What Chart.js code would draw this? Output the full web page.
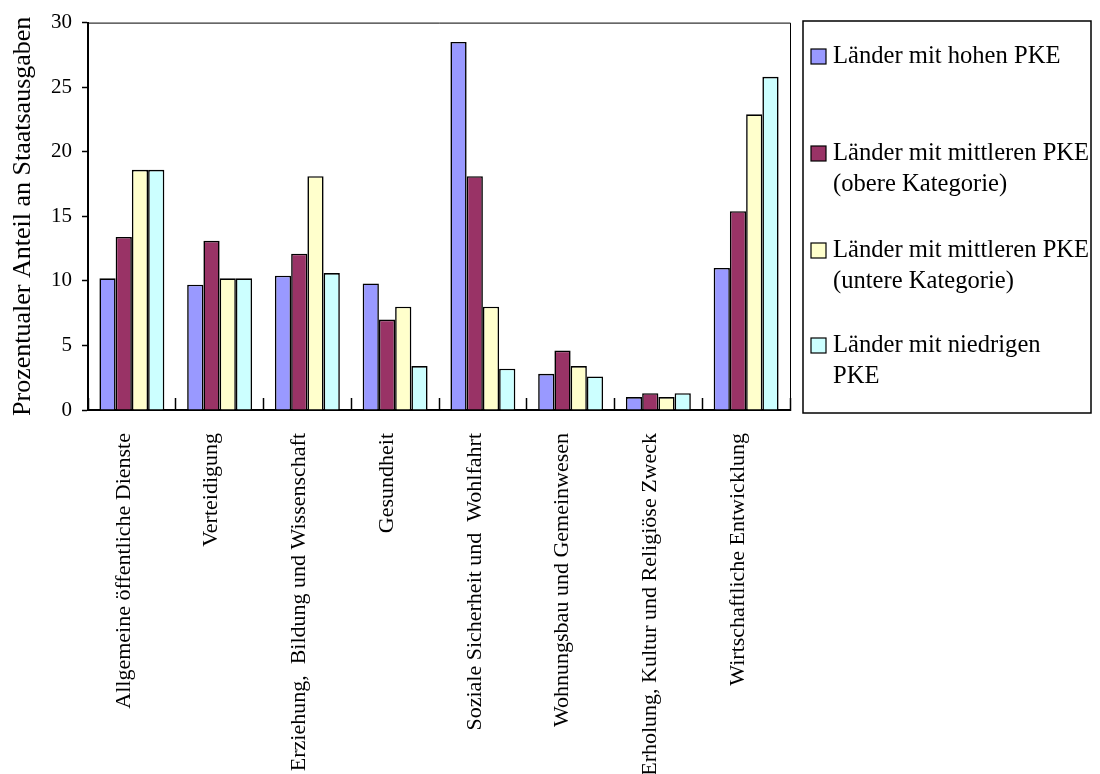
<!DOCTYPE html>
<html>
<head>
<meta charset="utf-8">
<script src="https://cdn.jsdelivr.net/npm/chart.js@4/dist/chart.umd.min.js"></script>
<style>
  html, body { margin: 0; padding: 0; background: #ffffff; }
  #wrap { position: relative; width: 1100px; height: 774px; }
</style>
</head>
<body>
<div id="wrap"><canvas id="c" width="1100" height="774"></canvas></div>
<script>
// Ausgabenbereiche (x-Achse)
const categories = [
  'Allgemeine öffentliche Dienste',
  'Verteidigung',
  'Erziehung,  Bildung und Wissenschaft',
  'Gesundheit',
  'Soziale Sicherheit und  Wohlfahrt',
  'Wohnungsbau und Gemeinwesen',
  'Erholung, Kultur und Religiöse Zweck',
  'Wirtschaftliche Entwicklung'
];

// Prozentualer Anteil an Staatsausgaben je Ländergruppe
const hohePKE        = [10.2, 9.7, 10.4, 9.8, 28.5, 2.8, 1.0, 11.0];
const mittlereOben   = [13.4, 13.1, 12.1, 7.0, 18.1, 4.6, 1.3, 15.4];
const mittlereUnten  = [18.6, 10.2, 18.1, 8.0, 8.0, 3.4, 1.0, 22.9];
const niedrigePKE    = [18.6, 10.2, 10.6, 3.4, 3.2, 2.6, 1.3, 25.8];

// Legendentexte (zeilenweise)
const legendLines = [
  ['Länder mit hohen PKE'],
  ['Länder mit mittleren PKE', '(obere Kategorie)'],
  ['Länder mit mittleren PKE', '(untere Kategorie)'],
  ['Länder mit niedrigen', 'PKE']
];

// y-Achse
const yMin = 0, yMax = 30, yStep = 5;
const yTitle = 'Prozentualer Anteil an Staatsausgaben';

const colors = ['#9999FF', '#993366', '#FFFFCC', '#CCFFFF'];
const seriesValues = [hohePKE, mittlereOben, mittlereUnten, niedrigePKE];

const SERIF = "'Liberation Serif', 'Times New Roman', serif";

// Rahmen oben/rechts um die Zeichenfläche
const plotFrame = {
  id: 'plotFrame',
  afterDatasetsDraw(chart) {
    const { ctx, chartArea: a } = chart;
    ctx.save();
    ctx.strokeStyle = '#000';
    ctx.lineWidth = 1;
    ctx.beginPath();
    ctx.moveTo(a.left, a.top + 0.5);
    ctx.lineTo(a.right + 0.5, a.top + 0.5);
    ctx.lineTo(a.right + 0.5, a.bottom);
    ctx.stroke();
    ctx.restore();
  }
};

// Legende im Kasten rechts neben dem Diagramm
const boxLegend = {
  id: 'boxLegend',
  afterDraw(chart) {
    const { ctx } = chart;
    const bx = 803, by = 21, bw = 288, bh = 392;
    ctx.save();
    ctx.strokeStyle = '#000';
    ctx.lineWidth = 1.5;
    ctx.strokeRect(bx, by, bw, bh);
    const firstCenters = [56, 153, 250, 345];
    const lineH = 31;
    ctx.font = '24.6px ' + SERIF;
    ctx.textBaseline = 'middle';
    ctx.textAlign = 'left';
    chart.data.datasets.forEach((ds, i) => {
      const cy = firstCenters[i];
      ctx.fillStyle = ds.backgroundColor;
      ctx.fillRect(811, cy - 7, 15, 15);
      ctx.lineWidth = 1.2;
      ctx.strokeStyle = '#000';
      ctx.strokeRect(811, cy - 7, 15, 15);
      ctx.fillStyle = '#000';
      legendLines[i].forEach((t, k) => ctx.fillText(t, 833, cy + 1 + k * lineH));
    });
    ctx.restore();
  }
};

new Chart(document.getElementById('c'), {
  type: 'bar',
  data: {
    labels: categories,
    datasets: seriesValues.map((vals, i) => ({
      label: legendLines[i].join(' '),
      data: vals,
      backgroundColor: colors[i],
      borderColor: '#000',
      borderWidth: 1.6,
      categoryPercentage: 0.74,
      barPercentage: 1.0
    }))
  },
  options: {
    responsive: false,
    animation: false,
    layout: { padding: { top: 21, right: 310, left: 0, bottom: 0 } },
    plugins: {
      legend: { display: false },
      tooltip: { enabled: false }
    },
    scales: {
      x: {
        afterFit(scale) { scale.height = 364; },
        border: { display: true, color: '#000', width: 2 },
        grid: {
          drawOnChartArea: false,
          drawTicks: true,
          tickLength: -12,
          tickWidth: 1.5,
          tickColor: '#000',
          offset: true
        },
        ticks: {
          autoSkip: false,
          maxRotation: 90,
          minRotation: 90,
          padding: 35,
          labelOffset: -8,
          color: '#000',
          font: { family: SERIF, size: 22 }
        }
      },
      y: {
        min: yMin,
        max: yMax,
        afterFit(scale) { scale.width = 88; },
        border: { display: true, color: '#000', width: 2 },
        grid: {
          drawOnChartArea: false,
          drawTicks: true,
          tickLength: 6,
          tickWidth: 1.5,
          tickColor: '#000'
        },
        ticks: {
          stepSize: yStep,
          padding: 10,
          color: '#000',
          font: { family: SERIF, size: 21 }
        },
        title: {
          display: true,
          text: yTitle,
          color: '#000',
          font: { family: SERIF, size: 26 },
          padding: { top: 8, bottom: 0 }
        }
      }
    }
  },
  plugins: [plotFrame, boxLegend]
});
</script>
</body>
</html>
